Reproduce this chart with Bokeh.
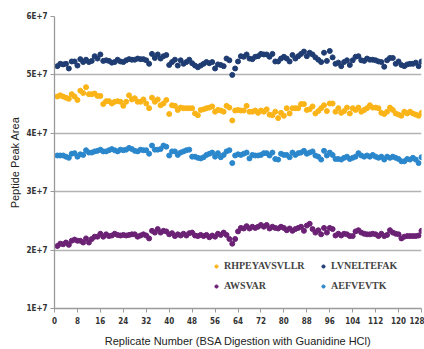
from bokeh.plotting import figure
from bokeh.models import Legend, LegendItem, FixedTicker, Range1d
from bokeh.embed import file_html
from bokeh.resources import INLINE

# Replicate numbers
replicate = list(range(1, 129))

# Peak areas in millions (x 1E+6)
lvneltefak = [
    51.5, 51.9, 51.8, 51.9, 51.1, 52.3, 52.3, 51.6, 52.7, 52.2,
    52.6, 52.2, 52.4, 53.2, 52.8, 53.5, 52.4, 52.5, 52.4, 52.1,
    52.2, 52.6, 52.3, 52.2, 52.5, 52.7, 52.6, 52.6, 52.8, 52.7,
    52.7, 52.5, 51.9, 53.6, 52.9, 53.5, 52.8, 53.2, 53.4, 51.7,
    52.2, 52.6, 51.6, 52.5, 51.9, 52.2, 52.6, 52.0, 51.6, 51.3,
    51.6, 51.9, 52.2, 52.0, 52.2, 51.1, 51.8, 51.7, 51.5, 52.8,
    52.5, 50.0, 51.1, 52.3, 53.2, 53.1, 53.5, 52.8, 52.7, 53.1,
    53.2, 53.6, 53.5, 53.5, 53.1, 53.6, 52.3, 52.3, 52.8, 53.1,
    52.8, 52.3, 53.4, 52.8, 53.2, 53.6, 54.0, 53.2, 53.8, 53.5,
    53.0, 52.6, 52.2, 53.8, 52.4, 54.1, 53.0, 51.9, 52.1, 51.5,
    52.2, 52.5, 51.7, 52.5, 53.1, 53.2, 52.5, 52.4, 52.8, 52.6,
    52.6, 52.5, 52.3, 52.2, 51.4, 52.5, 52.9, 52.9, 51.9, 52.3,
    51.7, 51.5, 51.8, 51.9, 51.9, 52.1, 51.5, 52.3,
]

rhpeyavsvllr = [
    46.3, 46.5, 46.3, 46.1, 45.9, 46.7, 46.3, 45.7, 47.3, 46.9,
    47.9, 46.7, 46.7, 46.8, 46.4, 46.4, 45.0, 45.5, 45.5, 45.1,
    45.4, 45.5, 45.4, 44.7, 45.4, 46.5, 45.8, 46.0, 45.4, 45.4,
    45.8, 45.1, 44.3, 46.1, 45.4, 45.8, 44.8, 45.1, 45.7, 43.3,
    44.8, 44.7, 44.0, 44.4, 44.3, 44.3, 44.3, 44.3, 43.4, 43.1,
    44.0, 44.1, 44.3, 44.4, 44.6, 43.7, 44.0, 43.9, 43.7, 44.7,
    44.4, 42.2, 43.9, 44.0, 43.9, 43.9, 44.7, 43.7, 43.7, 43.9,
    43.5, 43.9, 43.7, 44.1, 43.2, 43.1, 43.7, 42.6, 43.5, 43.0,
    44.3, 43.4, 44.3, 44.3, 44.3, 45.0, 45.0, 44.0, 44.1, 44.6,
    43.4, 43.8, 44.3, 44.8, 43.8, 45.1, 45.1, 43.7, 44.3, 43.5,
    43.8, 44.4, 43.4, 44.3, 44.0, 44.4, 43.7, 44.0, 44.3, 44.8,
    44.4, 44.4, 44.3, 43.5, 43.3, 43.7, 44.4, 44.0, 43.4, 43.2,
    43.0, 43.7, 43.4, 43.7, 43.4, 43.2, 43.0, 43.5,
]

aefvevtk = [
    36.2, 36.2, 36.2, 36.0, 35.8, 36.5, 36.6, 36.0, 36.4, 36.3,
    37.1, 36.7, 36.7, 36.9, 37.0, 37.2, 36.9, 36.9, 37.1, 37.3,
    37.1, 36.9, 37.2, 37.1, 37.2, 37.5, 37.3, 37.0, 36.9, 37.2,
    37.1, 37.1, 36.5, 37.9, 37.2, 37.2, 37.3, 37.9, 37.7, 36.2,
    36.9, 36.9, 36.3, 36.7, 36.9, 37.1, 37.2, 36.0, 36.0, 35.8,
    35.7, 35.9, 36.3, 36.5, 36.7, 36.0, 36.6, 35.9, 36.3, 36.9,
    37.1, 34.9, 36.2, 36.4, 36.3, 36.5, 36.7, 35.7, 36.3, 36.2,
    36.2, 36.3, 36.6, 36.6, 36.2, 36.7, 35.6, 35.5, 36.5, 36.3,
    36.3, 35.9, 36.7, 36.3, 36.6, 36.7, 37.0, 36.5, 36.7, 36.9,
    36.2, 36.0, 35.5, 37.0, 36.2, 36.7, 36.3, 35.6, 35.6, 35.5,
    35.8, 36.0, 35.6, 35.8, 36.0, 36.6, 36.2, 36.0, 36.2, 36.0,
    36.3, 36.0, 35.8, 36.0, 35.5, 36.0, 35.8, 36.0, 35.8, 35.6,
    35.2, 35.2, 35.6, 35.5, 35.8, 35.5, 34.9, 35.9,
]

awsvar = [
    20.7, 21.1, 21.0, 21.3, 20.9, 21.6, 21.8, 21.6, 21.6, 21.3,
    22.0, 21.3, 21.9, 22.3, 22.3, 22.8, 22.3, 22.7, 22.4, 22.5,
    22.8, 22.6, 22.5, 22.6, 22.5, 22.6, 22.7, 22.7, 22.3, 22.5,
    22.7, 22.5, 22.0, 23.3, 23.0, 23.6, 23.0, 23.3, 23.2, 22.7,
    22.9, 22.4, 22.7, 22.5, 22.8, 22.5, 22.9, 23.0, 22.5, 22.4,
    22.6, 22.4, 22.6, 22.2, 22.5, 22.3, 22.8, 22.6, 23.0, 22.6,
    21.9, 21.1, 21.9, 23.2, 23.8, 23.7, 24.1, 23.7, 24.0, 23.8,
    24.0, 24.3, 24.0, 24.3, 23.7, 24.0, 23.8, 23.7, 24.0, 23.8,
    23.4, 23.7, 23.3, 23.6, 23.8, 24.0, 23.3, 24.2, 24.5, 23.6,
    23.0, 23.4, 22.7, 23.8, 23.0, 23.8, 23.6, 22.5, 22.8, 22.5,
    22.8, 22.7, 22.4, 22.4, 23.2, 23.4, 23.0, 22.8, 22.7, 22.7,
    22.8, 22.7, 22.4, 22.8, 22.4, 22.6, 23.4, 23.0, 22.8, 22.7,
    22.0, 22.3, 22.4, 22.4, 22.4, 22.4, 22.5, 23.3,
]

series_names = ["RHPEYAVSVLLR", "LVNELTEFAK", "AWSVAR", "AEFVEVTK"]
series_values = [rhpeyavsvllr, lvneltefak, awsvar, aefvevtk]
series_colors = ["#fbb417", "#1f3d72", "#6b2174", "#2b87cc"]
# legend reading order (row by row): RHPEYAVSVLLR, LVNELTEFAK / AWSVAR, AEFVEVTK
legend_order = ["RHPEYAVSVLLR", "AWSVAR", "LVNELTEFAK", "AEFVEVTK"]

y_ticks = [10, 20, 30, 40, 50, 60]
y_tick_labels = ["1E+7", "2E+7", "3E+7", "4E+7", "5E+7", "6E+7"]
x_ticks = list(range(0, 129, 8))

p = figure(width=424, height=349, output_backend="svg", toolbar_location=None,
           x_range=Range1d(0, 128), y_range=Range1d(10, 60),
           min_border_left=54, min_border_right=3, min_border_top=16,
           min_border_bottom=39)
p.outline_line_color = None
p.background_fill_color = "white"
p.border_fill_color = "white"

renderers = {}
for name, vals, col in zip(series_names, series_values, series_colors):
    r = p.scatter(replicate, vals, size=5, marker="circle",
                  fill_color=col, line_color=col)
    renderers[name] = r

# axes
tick_font = "Liberation Sans Narrow, DejaVu Sans Condensed, sans-serif"
p.yaxis.ticker = FixedTicker(ticks=y_ticks)
p.yaxis.major_label_overrides = {t: l for t, l in zip(y_ticks, y_tick_labels)}
p.xaxis.ticker = FixedTicker(ticks=x_ticks)
for ax in (p.xaxis[0], p.yaxis[0]):
    ax.axis_line_color = "#9a9a9a"
    ax.axis_line_width = 1.3
    ax.major_tick_line_color = "#9a9a9a"
    ax.major_tick_in = 0
    ax.major_tick_out = 4
    ax.minor_tick_line_color = None
    ax.major_label_text_font = tick_font
    ax.major_label_text_font_size = "8px"
    ax.major_label_text_font_style = "bold"
    ax.major_label_text_color = "#333333"
    ax.axis_label_text_font = "Liberation Sans, Arial, sans-serif"
    ax.axis_label_text_font_size = "11px"
    ax.axis_label_text_font_style = "normal"
    ax.axis_label_text_color = "#222222"

p.yaxis.axis_label = "Peptide Peak Area"
p.yaxis.major_label_standoff = 3
p.yaxis.axis_label_standoff = 3
p.xaxis.axis_label = "Replicate Number (BSA Digestion with Guanidine HCl)"
p.xaxis.major_label_standoff = 4
p.xaxis.axis_label_standoff = 8

p.xgrid.grid_line_color = None
p.ygrid.ticker = FixedTicker(ticks=y_ticks[1:])
p.ygrid.grid_line_color = "#b3b3b3"
p.ygrid.grid_line_width = 1.5

legend = Legend(
    items=[LegendItem(label=n, renderers=[renderers[n]]) for n in legend_order],
    location=(158, 17), ncols=2,
    label_text_font="Liberation Serif, DejaVu Serif, serif",
    label_text_font_style="bold",
    label_text_font_size="10px",
    label_text_color="#444444",
    glyph_width=8, glyph_height=8, label_width=86,
    label_standoff=4, spacing=9, padding=2, margin=0,
    border_line_color=None, background_fill_alpha=0,
)
p.add_layout(legend, "center")

open("out.html", "w").write(file_html(p, INLINE))
